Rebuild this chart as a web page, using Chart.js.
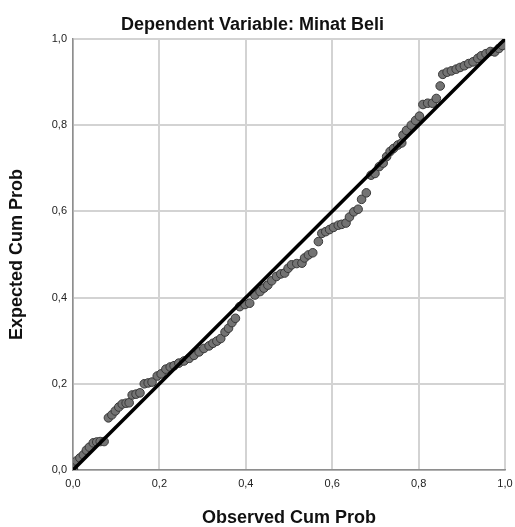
<!DOCTYPE html>
<html>
<head>
<meta charset="utf-8">
<script src="https://cdn.jsdelivr.net/npm/chart.js@4/dist/chart.umd.min.js"></script>
<style>
  html, body { margin: 0; padding: 0; background: #ffffff; }
  #wrap { width: 515px; height: 527px; }
</style>
</head>
<body>
<div id="wrap"><canvas id="c" width="515" height="527"></canvas></div>
<script>
const chartTitle = 'Dependent Variable: Minat Beli';
const xTitle = 'Observed Cum Prob';
const yTitle = 'Expected Cum Prob';
const tickLabels = ['0,0', '0,2', '0,4', '0,6', '0,8', '1,0'];

const observedCumProb = [
  0.001, 0.008, 0.016, 0.024, 0.031, 0.038, 0.047, 0.055, 0.063, 0.072,
  0.082, 0.090, 0.098, 0.106, 0.114, 0.123, 0.130, 0.137, 0.146, 0.155,
  0.165, 0.174, 0.183, 0.195, 0.204, 0.215, 0.225, 0.234, 0.245, 0.257,
  0.269, 0.280, 0.292, 0.303, 0.315, 0.324, 0.333, 0.342, 0.352, 0.360,
  0.368, 0.376, 0.386, 0.398, 0.409, 0.421, 0.433, 0.442, 0.451, 0.460,
  0.471, 0.481, 0.490, 0.498, 0.506, 0.518, 0.530, 0.536, 0.545, 0.555,
  0.568, 0.576, 0.585, 0.594, 0.603, 0.614, 0.622, 0.632, 0.640, 0.650,
  0.660, 0.668, 0.679, 0.690, 0.699, 0.709, 0.718, 0.726, 0.734, 0.742,
  0.752, 0.761, 0.764, 0.772, 0.783, 0.793, 0.802, 0.810, 0.821, 0.832,
  0.841, 0.850, 0.856, 0.866, 0.876, 0.887, 0.896, 0.906, 0.916, 0.926,
  0.937, 0.945, 0.956, 0.966, 0.976, 0.986, 0.994
];
const expectedCumProb = [
  0.002, 0.021, 0.028, 0.035, 0.046, 0.053, 0.063, 0.065, 0.066, 0.066,
  0.121, 0.128, 0.137, 0.146, 0.153, 0.155, 0.156, 0.174, 0.176, 0.179,
  0.200, 0.202, 0.204, 0.218, 0.223, 0.234, 0.239, 0.242, 0.248, 0.253,
  0.259, 0.266, 0.274, 0.282, 0.288, 0.294, 0.299, 0.305, 0.320, 0.329,
  0.342, 0.352, 0.379, 0.384, 0.387, 0.406, 0.414, 0.422, 0.429, 0.439,
  0.449, 0.455, 0.457, 0.468, 0.476, 0.479, 0.480, 0.492, 0.499, 0.504,
  0.530, 0.549, 0.553, 0.558, 0.563, 0.568, 0.570, 0.573, 0.587, 0.599,
  0.605, 0.628, 0.643, 0.684, 0.688, 0.704, 0.712, 0.727, 0.739, 0.746,
  0.754, 0.759, 0.777, 0.788, 0.800, 0.811, 0.821, 0.848, 0.851, 0.851,
  0.862, 0.891, 0.918, 0.923, 0.926, 0.930, 0.934, 0.938, 0.943, 0.947,
  0.955, 0.961, 0.966, 0.971, 0.970, 0.978, 0.985
];
const refLineX = [0, 1];
const refLineY = [0, 1];

const points = observedCumProb.map((x, i) => ({ x: x, y: expectedCumProb[i] }));
const refLine = refLineX.map((x, i) => ({ x: x, y: refLineY[i] }));

const FONT = "'Liberation Sans', Arial, sans-serif";
const tickFmt = (v) => {
  const idx = Math.round(v / 0.2);
  return (Math.abs(v - idx * 0.2) < 1e-6 && tickLabels[idx] !== undefined) ? tickLabels[idx] : '';
};

new Chart(document.getElementById('c'), {
  type: 'scatter',
  data: {
    datasets: [
      {
        type: 'line',
        data: refLine,
        borderColor: '#000000',
        borderWidth: 3.5,
        pointRadius: 0,
        fill: false,
        tension: 0
      },
      {
        type: 'scatter',
        data: points,
        pointRadius: 4.3,
        pointBackgroundColor: '#737373',
        pointBorderColor: '#383838',
        pointBorderWidth: 1,
        showLine: false
      }
    ]
  },
  options: {
    responsive: false,
    animation: false,
    devicePixelRatio: 1,
    layout: { padding: { left: 0, right: 10, top: 0, bottom: 0 } },
    plugins: {
      legend: { display: false },
      tooltip: { enabled: false },
      title: {
        display: true,
        text: chartTitle,
        color: '#111111',
        font: { family: FONT, size: 18, weight: 'bold', lineHeight: 1.2 },
        padding: { top: 14, bottom: 3.4 }
      }
    },
    scales: {
      x: {
        type: 'linear',
        min: 0, max: 1,
        afterFit: (s) => { s.height = 57; s.paddingRight = 0; s.paddingLeft = 0; },
        ticks: {
          stepSize: 0.2,
          padding: 7,
          color: '#222222',
          font: { family: FONT, size: 11 },
          callback: tickFmt,
          maxRotation: 0
        },
        grid: { color: '#d3d3d3', lineWidth: 2, drawTicks: false },
        border: { display: true, color: '#8e8e8e', width: 1.5 },
        title: {
          display: true,
          text: xTitle,
          color: '#111111',
          font: { family: FONT, size: 18, weight: 'bold', lineHeight: 1 },
          padding: { top: 0, bottom: 0 }
        }
      },
      y: {
        type: 'linear',
        min: 0, max: 1,
        afterFit: (s) => { s.width = 73; s.paddingTop = 0; s.paddingBottom = 0; },
        ticks: {
          stepSize: 0.2,
          padding: 6,
          color: '#222222',
          font: { family: FONT, size: 11 },
          callback: tickFmt
        },
        grid: { color: '#d3d3d3', lineWidth: 2, drawTicks: false },
        border: { display: true, color: '#8e8e8e', width: 1.5 },
        title: {
          display: true,
          text: yTitle,
          color: '#111111',
          font: { family: FONT, size: 18, weight: 'bold', lineHeight: 1 },
          padding: { top: 8, bottom: 0 }
        }
      }
    }
  }
});
</script>
</body>
</html>
